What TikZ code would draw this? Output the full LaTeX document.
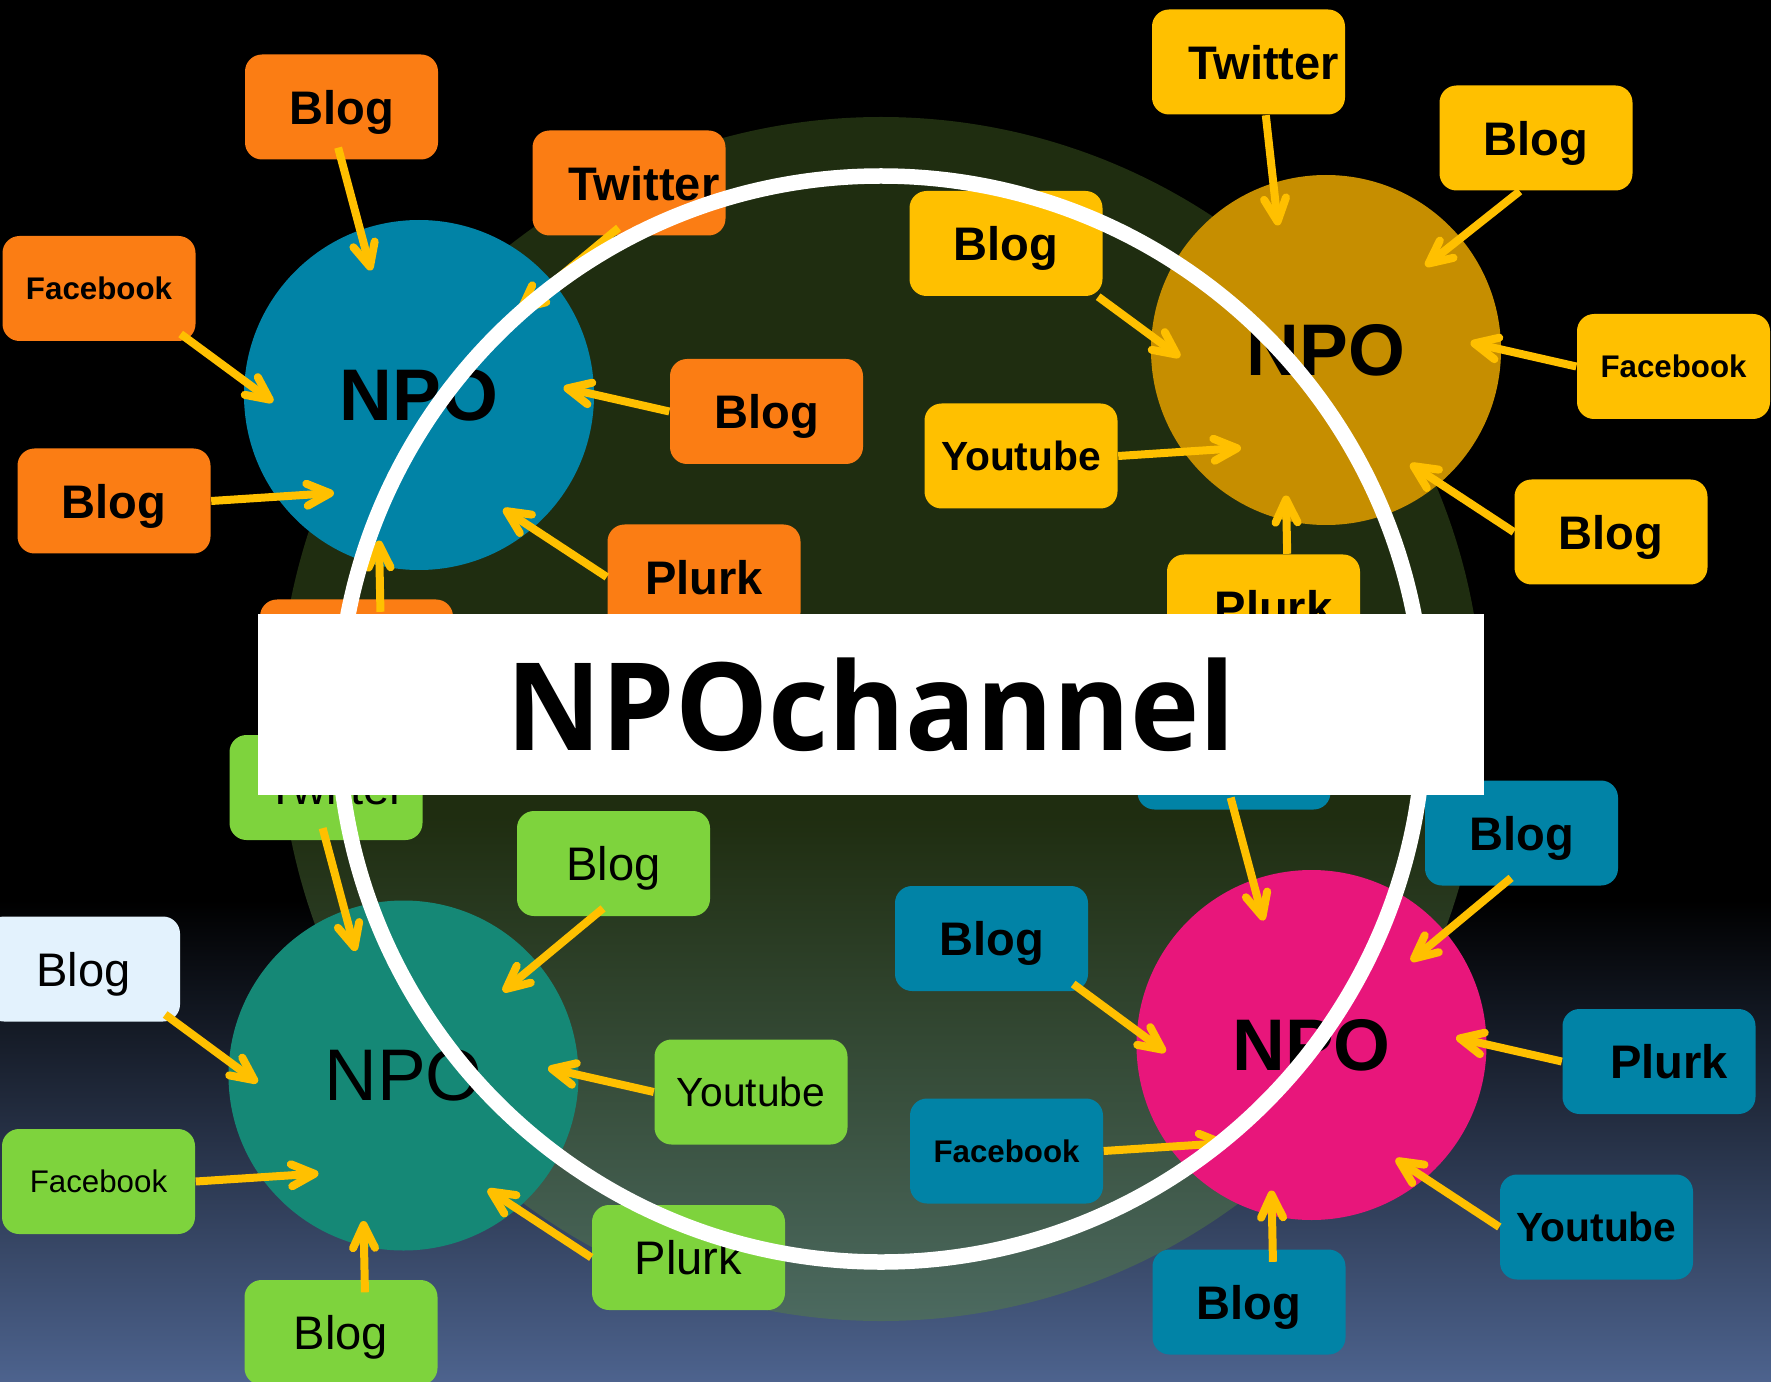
\documentclass[tikz,border=0pt]{standalone}
\usepackage{fontspec}
\setmainfont{Liberation Sans}
\newfontfamily\titlefont{Open Sans}
\usepackage{graphicx}
\usetikzlibrary{positioning}
\usetikzlibrary{arrows.meta}

\definecolor{npoorange}{RGB}{251,125,20}
\definecolor{npogold}{RGB}{255,192,0}
\definecolor{npoblue}{RGB}{1,131,166}
\definecolor{npogreen}{RGB}{126,211,61}
\definecolor{npolight}{RGB}{227,242,253}
\definecolor{circgold}{RGB}{198,142,0}
\definecolor{circteal}{RGB}{21,136,118}
\definecolor{circpink}{RGB}{232,22,123}
\definecolor{skyblue}{RGB}{77,99,142}
\definecolor{halodark}{RGB}{31,45,16}
\definecolor{halolight}{RGB}{76,106,96}

\pgfdeclareverticalshading{halo}{100bp}{color(0bp)=(halolight); color(25bp)=(halolight); color(46bp)=(halodark); color(100bp)=(halodark)}

\newcommand{\boxsize}{\fontsize{13.4}{16}\selectfont}
\newcommand{\ytsize}{\fontsize{11.6}{14}\selectfont}
\newcommand{\fbsize}{\fontsize{8.9}{11}\selectfont}

\begin{document}
\begin{tikzpicture}[
x=0.1mm, y=-0.1mm,
>={Straight Barb[length=2.3mm,width=2.2mm,round]},
npo/.style={circle, minimum size=35mm, inner sep=0pt, font=\bfseries\fontsize{20.8}{24}\selectfont},
box/.style={rectangle, rounded corners=1.7mm, minimum width=19.3mm, minimum height=10.5mm, inner sep=0pt, text depth=0pt, on grid},
orangebox/.style={box, fill=npoorange, font=\boxsize\bfseries},
goldbox/.style={box, fill=npogold, font=\boxsize\bfseries},
greenbox/.style={box, fill=npogreen, font=\boxsize},
lightbox/.style={greenbox, fill=npolight},
bluebox/.style={box, fill=npoblue, font=\boxsize\bfseries},
link/.style={->, draw=npogold, line width=0.8mm},
linkin/.style={link, shorten <=-1.3mm},
banner/.style={rectangle, fill=white, minimum width=122.6mm, minimum height=18.1mm, inner sep=0pt, font=\titlefont\bfseries\fontsize{34.7}{40}\selectfont},
]
\useasboundingbox (0,0) rectangle (1771,1382);

%Background
\fill[black] (0,0) rectangle (1771,1382);
\shade[top color=black, bottom color=skyblue] (0,900) rectangle (1771,1382);
\shade[shading=halo] (881,719) circle[radius=602];

%Nodes
\node[npo, fill=npoblue]    (npoA) at (419,395)     {NPO};
\node[npo, fill=circgold]   (npoB) at (1326,350)    {NPO};
\node[npo, fill=circteal, font=\fontsize{20.8}{24}\selectfont] (npoC) at (403.5,1075.5) {NPO};
\node[npo, fill=circpink]   (npoD) at (1311.5,1045) {NPO};

\node[orangebox]  (oblog1)  [above left=28.8mm and 7.75mm of npoA]   {Blog};
\node[orangebox]  (otwit)   [above right=21.2mm and 21mm of npoA]   {\hspace{3mm}Twitter};
\node[orangebox]  (ofb)     [above left=10.65mm and 32mm of npoA]   {\fbsize Facebook};
\node[orangebox]  (oblog2)  [below left=10.6mm and 30.5mm of npoA]  {Blog};
\node[orangebox]  (oblog3)  [below right=1.65mm and 34.75mm of npoA] {Blog};
\node[orangebox]  (oplurk)  [below right=18.2mm and 28.5mm of npoA] {Plurk};
\node[orangebox]  (obox)    [below left=25.7mm and 6.25mm of npoA]  {};

\node[goldbox]    (gtwit)   [above left=28.8mm and 7.75mm of npoB]   {\hspace{3mm}Twitter};
\node[goldbox]    (gblog1)  [above right=21.2mm and 21mm of npoB]   {Blog};
\node[goldbox]    (gblog2)  [above left=10.65mm and 32mm of npoB]   {Blog};
\node[goldbox]    (gfb)     [below right=1.65mm and 34.75mm of npoB] {\fbsize Facebook};
\node[goldbox]    (gyt)     [below left=10.6mm and 30.5mm of npoB]  {\ytsize Youtube};
\node[goldbox]    (gblog3)  [below right=18.2mm and 28.5mm of npoB] {Blog};
\node[goldbox]    (gplurk)  [below left=25.7mm and 6.25mm of npoB]  {\hspace{2mm}Plurk};

\node[greenbox]   (ctwit)   [above left=28.8mm and 7.75mm of npoC]   {\hspace{2mm}Twitter};
\node[greenbox]   (cblog1)  [above right=21.2mm and 21mm of npoC]   {Blog};
\node[lightbox]   (cblog2)  [above left=10.65mm and 32mm of npoC]   {Blog\hspace{2mm}};
\node[greenbox]   (cyt)     [below right=1.65mm and 34.75mm of npoC] {\ytsize Youtube};
\node[greenbox]   (cfb)     [below left=10.6mm and 30.5mm of npoC]  {\fbsize Facebook};
\node[greenbox]   (cplurk)  [below right=18.2mm and 28.5mm of npoC] {Plurk};
\node[greenbox]   (cblog3)  [below left=25.7mm and 6.25mm of npoC]  {Blog};

\node[bluebox]    (bbox)    [above left=28.8mm and 7.75mm of npoD]   {};
\node[bluebox]    (bblog1)  [above right=21.2mm and 21mm of npoD]   {Blog};
\node[bluebox]    (bblog2)  [above left=10.65mm and 32mm of npoD]   {Blog};
\node[bluebox]    (bplurk)  [below right=1.65mm and 34.75mm of npoD] {\hspace{2mm}Plurk};
\node[bluebox]    (bfb)     [below left=10.6mm and 30.5mm of npoD]  {\fbsize Facebook};
\node[bluebox]    (byt)     [below right=18.2mm and 28.5mm of npoD] {\ytsize Youtube};
\node[bluebox]    (bblog3)  [below left=25.7mm and 6.25mm of npoD]  {Blog};

%Lines
\draw[linkin] (oblog1.south) -- ([shift={(-48,-124.5)}]npoA.center);
\draw[linkin] (otwit.249)    -- ([shift={(99.5,-84)}]npoA.center);
\draw[linkin] (ofb.330)      -- ([shift={(-146,7)}]npoA.center);
\draw[link]   (oblog2.east)  -- ([shift={(-85,98)}]npoA.center);
\draw[link]   (oblog3.west)  -- ([shift={(144.5,-7.5)}]npoA.center);
\draw[link]   (oplurk.west)  -- ([shift={(84.3,114)}]npoA.center);
\draw[linkin] (obox.66)      -- ([shift={(-40,145.5)}]npoA.center);

\draw[link] (gtwit.288)   -- ([shift={(-48,-124.5)}]npoB.center);
\draw[link] (gblog1.253)  -- ([shift={(99.5,-84)}]npoB.center);
\draw[link] (gblog2.330)  -- ([shift={(-146,7)}]npoB.center);
\draw[link] (gyt.east)    -- ([shift={(-85,98)}]npoB.center);
\draw[link] (gfb.west)    -- ([shift={(144.5,-7.5)}]npoB.center);
\draw[link] (gblog3.west) -- ([shift={(84.3,114)}]npoB.center);
\draw[link] (gplurk.66)   -- ([shift={(-40,145.5)}]npoB.center);

\draw[linkin] (ctwit.south)  -- ([shift={(-48,-124.5)}]npoC.center);
\draw[linkin] (cblog1.249)   -- ([shift={(99.5,-84)}]npoC.center);
\draw[linkin] (cblog2.330)   -- ([shift={(-146,7)}]npoC.center);
\draw[link]   (cfb.east)     -- ([shift={(-85,98)}]npoC.center);
\draw[link]   (cyt.west)     -- ([shift={(144.5,-7.5)}]npoC.center);
\draw[link]   (cplurk.west)  -- ([shift={(84.3,114)}]npoC.center);
\draw[linkin] (cblog3.66)    -- ([shift={(-40,145.5)}]npoC.center);

\draw[linkin] (bbox.south)   -- ([shift={(-48,-124.5)}]npoD.center);
\draw[linkin] (bblog1.249)   -- ([shift={(99.5,-84)}]npoD.center);
\draw[linkin] (bblog2.330)   -- ([shift={(-146,7)}]npoD.center);
\draw[link]   (bfb.east)     -- ([shift={(-85,98)}]npoD.center);
\draw[link]   (bplurk.west)  -- ([shift={(144.5,-7.5)}]npoD.center);
\draw[link]   (byt.west)     -- ([shift={(84.3,114)}]npoD.center);
\draw[linkin] (bblog3.66)    -- ([shift={(-40,145.5)}]npoD.center);

%Ring and title
\draw[white, line width=1.55mm] (881,719) circle[radius=543];
\node[banner] (title) at (871,704.5) {\scalebox{0.96}[1]{NPOchannel}};
\end{tikzpicture}
\end{document}
